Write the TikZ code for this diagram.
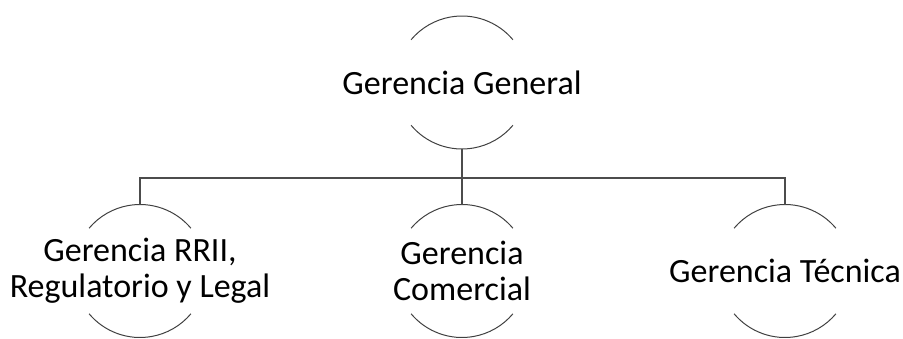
\documentclass[tikz,border=0pt]{standalone}
\usepackage{fontspec}
\setmainfont{Carlito}
\tikzset{
  puesto/.style={circle, minimum size=133pt, inner sep=0pt, outer sep=0pt},
  rotulo/.style={font=\fontsize{34}{36}\selectfont, align=center, text=black},
  arco/.style={draw=black!75, line width=1pt},
  linea/.style={draw=black!70, line width=1.3pt}
}
\begin{document}
\begin{tikzpicture}[x=1pt,y=1pt]
	\useasboundingbox (0,0) rectangle (903,-338);
	
	%puestos
	\node[puesto, label={[rotulo]center:{Gerencia General}}] (gg) at (462,-82.5) {};
	\node[puesto, label={[rotulo]center:{Gerencia RRII,\\Regulatorio y Legal}}] (grr) at (140,-271) {};
	\node[puesto, label={[rotulo]center:{Gerencia\\Comercial}}] (gc) at (462,-271) {};
	\node[puesto, label={[rotulo]center:{Gerencia Técnica}}] (gt) at (785,-271) {};
	
	\foreach \n in {gg, grr, gc, gt}{
		\draw[arco] (\n.40) arc[start angle=40, end angle=140, radius=66.5];
		\draw[arco] (\n.220) arc[start angle=220, end angle=320, radius=66.5];
	}
	
	%lineas
	\foreach \n in {grr, gc, gt}{
		\draw[linea] (gg.south) -- ++(0,-29) -| (\n.north);
	}
\end{tikzpicture}
\end{document}
